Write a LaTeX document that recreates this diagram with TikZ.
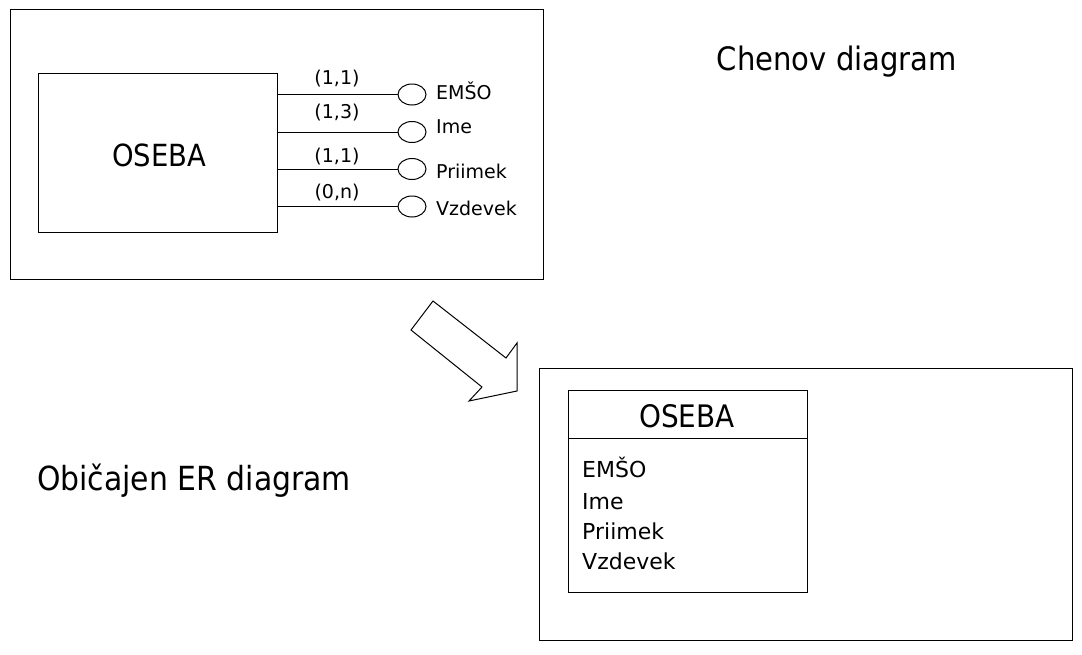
\documentclass[tikz,border=0pt]{standalone}
\usepackage{fontspec}
\setmainfont{DejaVu Sans Condensed}
\newfontfamily\widefont{DejaVu Sans}
\usetikzlibrary{shapes.geometric}
\begin{document}
\begin{tikzpicture}[x=1pt,y=-1pt,
  frame/.style={draw=black,line width=1pt},
  attr/.style={draw=black,ellipse,line width=1pt,minimum width=28pt,minimum height=21pt,inner sep=0pt},
  conn/.style={draw=black,line width=1pt},
  small/.style={font=\widefont\fontsize{19}{21}\selectfont,inner sep=0pt},
  mid/.style={font=\widefont\fontsize{22}{25}\selectfont,inner sep=0pt},
  big/.style={inner sep=0pt}]
\useasboundingbox (0,0) rectangle (1082,654);
% Chen frame
\node[frame,anchor=north west,minimum width=533pt,minimum height=270pt,inner sep=0pt] (f1) at (10,9) {};
\node[frame,anchor=north west,minimum width=239pt,minimum height=159pt,inner sep=0pt] (e1) at (38,73) {};
\node[big,anchor=base,font=\fontsize{30.5}{34}\selectfont] (e1t) at (159,166) {OSEBA};
% attribute ellipses
\node[attr] (a1) at (412,94.5) {};
\node[attr] (a2) at (412,132) {};
\node[attr] (a3) at (412,169) {};
\node[attr] (a4) at (412,206.5) {};
\draw[conn] (e1.east |- a1.west) -- (a1.west);
\draw[conn] (e1.east |- a2.west) -- (a2.west);
\draw[conn] (e1.east |- a3.west) -- (a3.west);
\draw[conn] (e1.east |- a4.west) -- (a4.west);
\node[small,anchor=base] (c1) at (337,84) {(1,1)};
\node[small,anchor=base] (c2) at (337,118) {(1,3)};
\node[small,anchor=base] (c3) at (337,162) {(1,1)};
\node[small,anchor=base] (c4) at (337,198) {(0,n)};
\node[small,anchor=base west] (n1) at (436,99) {EMŠO};
\node[small,anchor=base west] (n2) at (436,133) {Ime};
\node[small,anchor=base west] (n3) at (436,178) {Priimek};
\node[small,anchor=base west] (n4) at (436,215) {Vzdevek};
\node[big,anchor=base,font=\fontsize{32.3}{36}\selectfont] (t1) at (837,70) {Chenov diagram};
% arrow
\draw[line width=1pt,line join=miter] (433,301) -- (506,358) -- (517,343) -- (517,391) -- (469,401) -- (482,387) -- (411,330) -- cycle;
% ER frame
\node[frame,anchor=north west,minimum width=533pt,minimum height=272pt,inner sep=0pt] (f2) at (539,368) {};
\node[frame,anchor=north west,minimum width=239pt,minimum height=202pt,inner sep=0pt] (e2) at (567.5,390) {};
\coordinate (s1) at (567.5,438);
\coordinate (s2) at (806.5,438);
\draw[conn] (s1) -- (s2);
\node[big,anchor=base,font=\fontsize{31}{35}\selectfont] (e2t) at (687,427) {OSEBA};
\node[mid,anchor=base west] (m1) at (582,477) {EMŠO};
\node[mid,anchor=base west] (m2) at (582,509) {Ime};
\node[mid,anchor=base west] (m3) at (582,539) {Priimek};
\node[mid,anchor=base west] (m4) at (582,569) {Vzdevek};
\node[big,anchor=base west,font=\fontsize{33.2}{37}\selectfont] (t2) at (37,490) {Običajen ER diagram};
\end{tikzpicture}
\end{document}
